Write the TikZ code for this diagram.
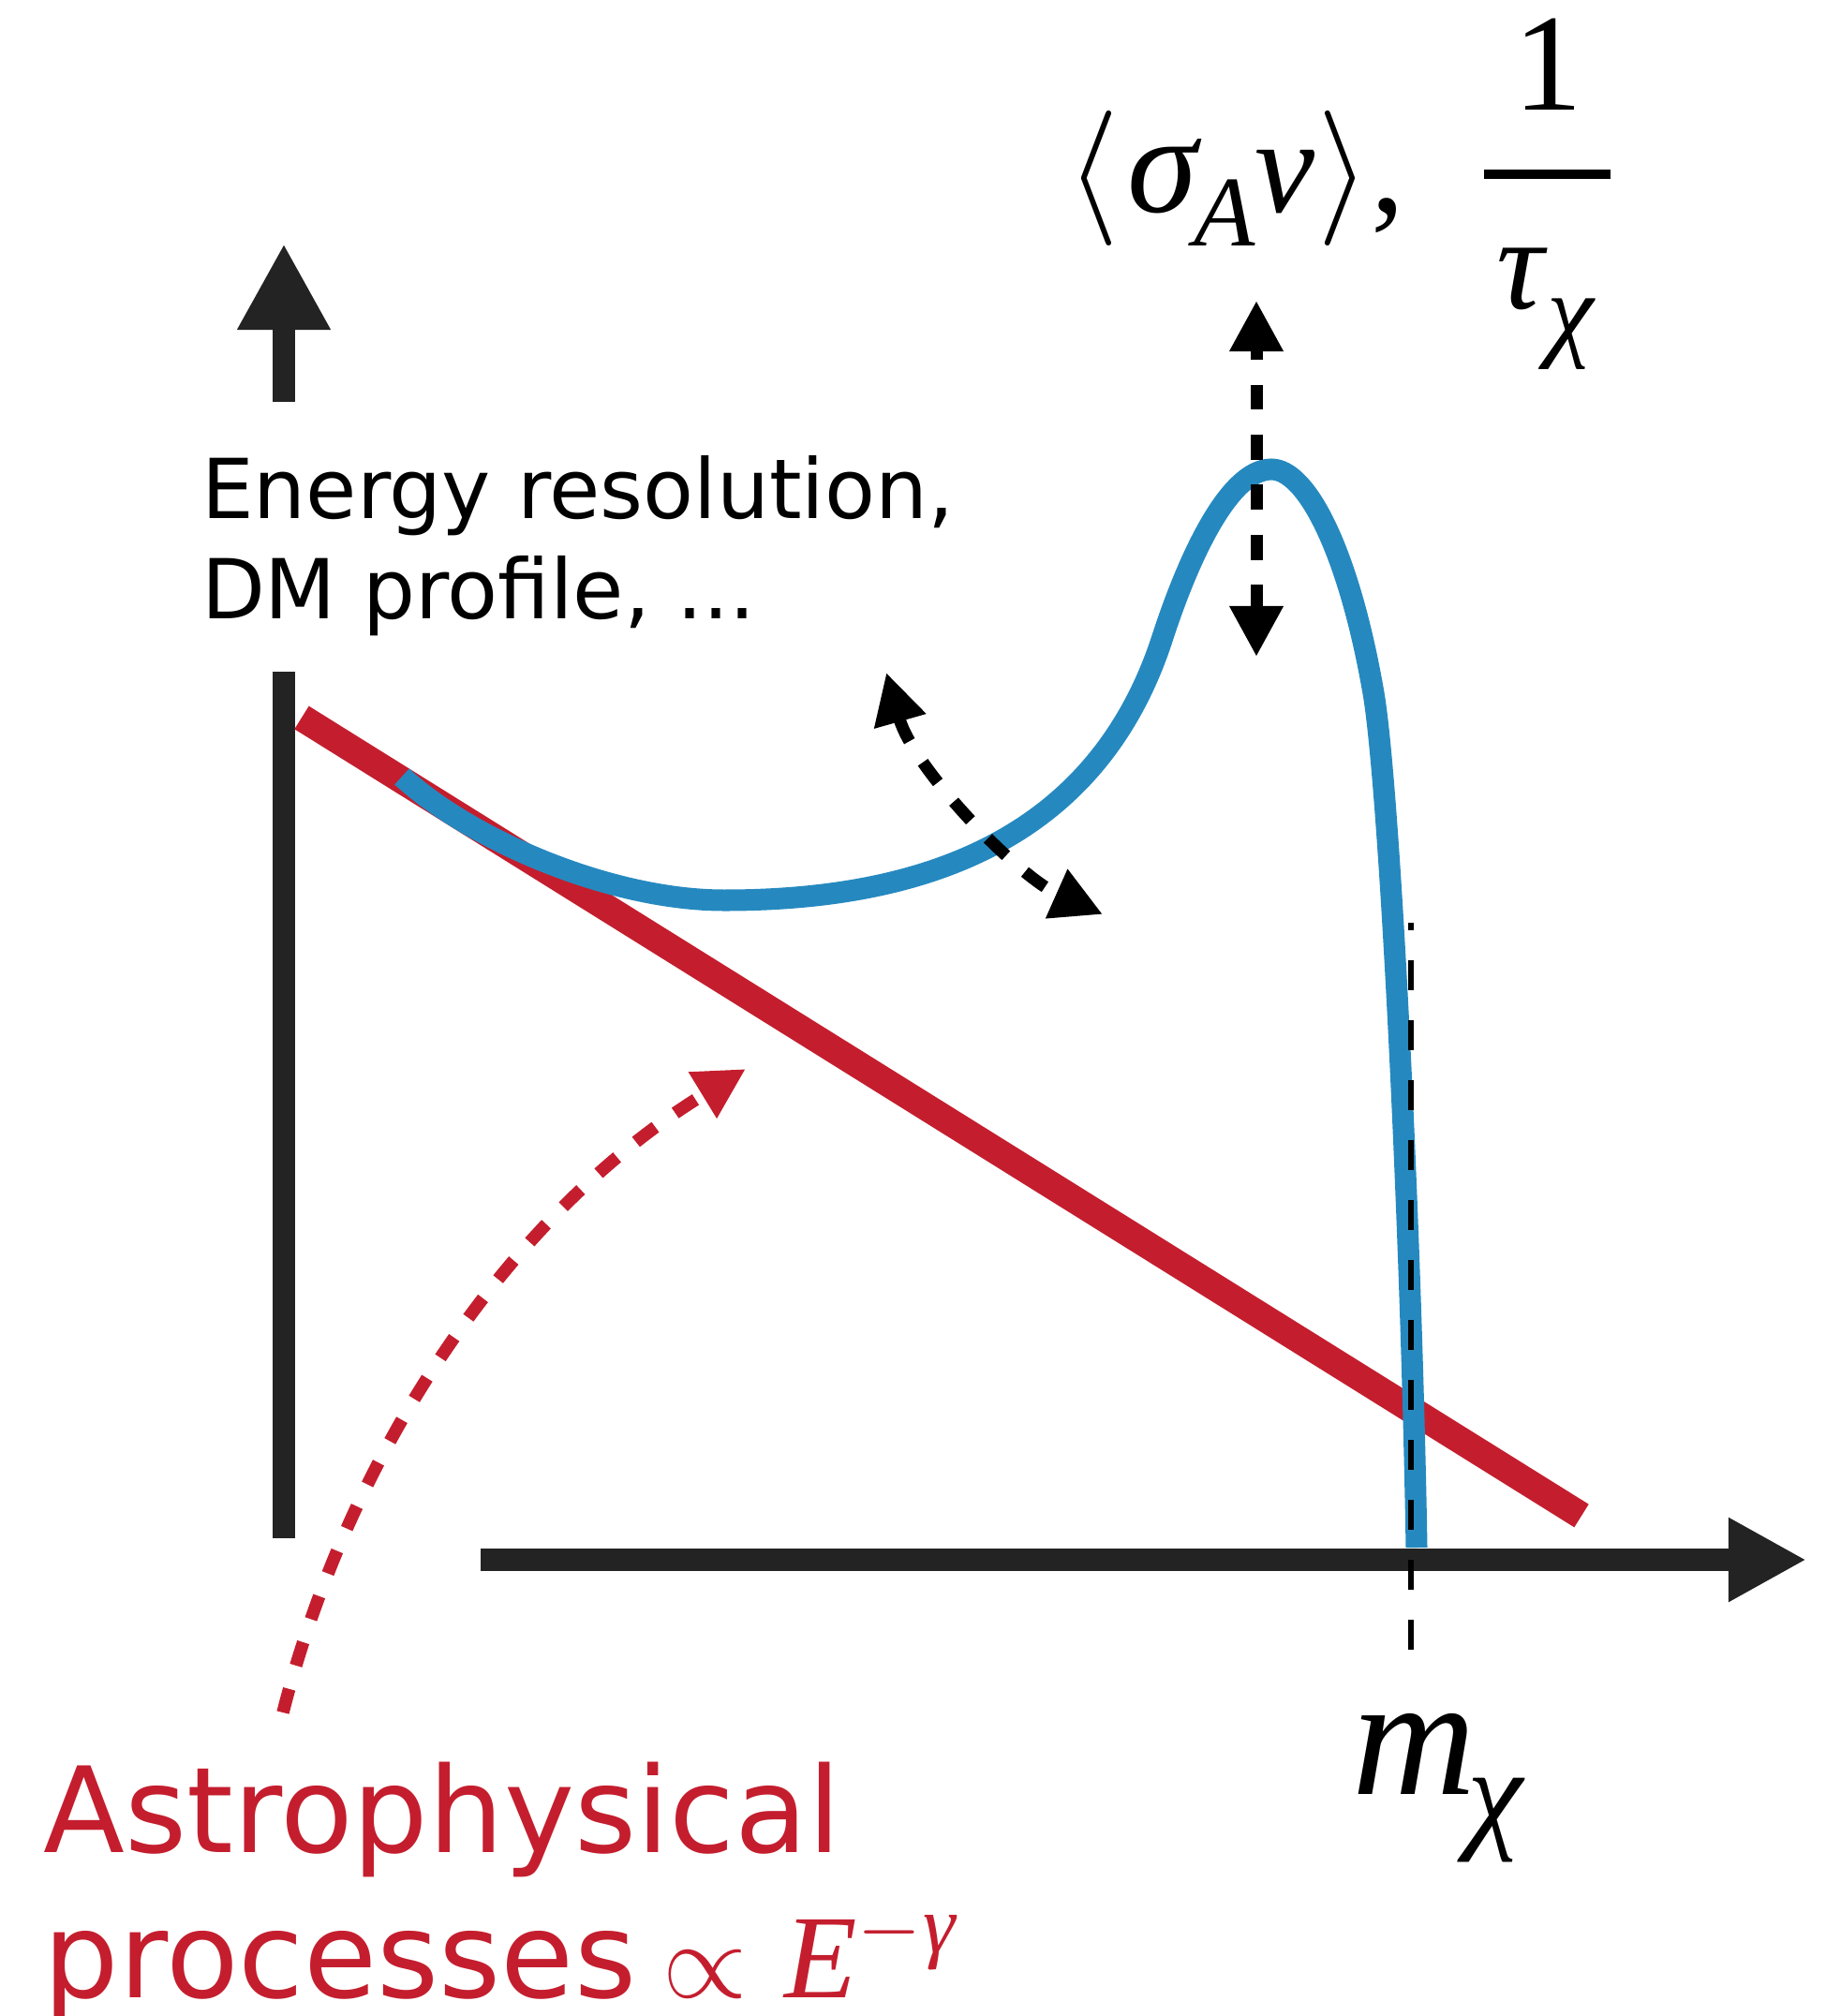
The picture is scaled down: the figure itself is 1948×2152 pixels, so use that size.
\RequirePackage{fix-cm}
\documentclass[tikz,border=0pt]{standalone}
\usepackage{fontspec}
\setmainfont{DejaVu Sans}
\newfontfamily\tms{Liberation Serif}
\usetikzlibrary{arrows.meta}
\definecolor{myred}{RGB}{196,30,46}
\definecolor{myblue}{RGB}{37,137,192}
\definecolor{axisgray}{RGB}{35,35,35}
\tikzset{
  axisline/.style={draw=axisgray, line width=0.235cm},
  redcurve/.style={draw=myred, line width=0.29cm},
  bluecurve/.style={draw=myblue, line width=0.23cm},
  blackdash/.style={draw=black, line width=0.13cm, dash pattern=on 0.267cm off 0.267cm},
  reddash/.style={draw=myred, line width=0.135cm, dash pattern=on 0.26cm off 0.26cm},
  guide/.style={draw=black, line width=0.055cm, dash pattern=on 0.32cm off 0.32cm},
  lbl/.style={inner sep=0pt, outer sep=0pt},
}
\begin{document}
\begin{tikzpicture}[x=0.01cm, y=-0.01cm]
\fill[white] (0,0) rectangle (1948,2152);
\useasboundingbox (0,0) rectangle (1948,2152);

% coordinates
\coordinate (upTop) at (303,260);
\coordinate (upBot) at (303,429);
\coordinate (vaxTop) at (303,717);
\coordinate (vaxBot) at (303,1642);
\coordinate (xaxL) at (513,1665);
\coordinate (xaxR) at (1928,1665);
\coordinate (redA) at (322,766);
\coordinate (redB) at (1688,1618);
\coordinate (guideBot) at (1506,1761);
\coordinate (guideTop) at (1506,985);
\coordinate (vdTop) at (1341,321);
\coordinate (vdBot) at (1341,701);
\coordinate (ddTop) at (946,718);
\coordinate (ddBot) at (1177,976);
\coordinate (rdStart) at (302,1828);
\coordinate (rdTip) at (796,1141);
\coordinate (blueStart) at (429,829);
\coordinate (blueMin) at (773,961);
\coordinate (blueA) at (1241,680);
\coordinate (bluePeak) at (1357,501);
\coordinate (blueB) at (1466,740);
\coordinate (blueEnd) at (1512,1652);

% axes
\draw[axisline, -{Triangle[length=0.92cm,width=0.93cm]}] (upBot) -- (upTop);
\draw[axisline] (vaxTop) -- (vaxBot);
\draw[axisline, -{Triangle[length=0.83cm,width=0.84cm]}] (xaxL) -- (xaxR);

% astrophysical power law
\draw[redcurve] (redA) -- (redB);

% DM spectrum
\draw[bluecurve] (blueStart) .. controls (500,895) and (650,961) .. (blueMin)
  .. controls (980,961) and (1170,900) .. (blueA)
  .. controls (1266,603) and (1310,501) .. (bluePeak)
  .. controls (1395,501) and (1440,590) .. (blueB)
  .. controls (1483,840) and (1506,1300) .. (blueEnd);

% mass guide
\draw[guide] (guideBot) -- (guideTop);

% arrows
\draw[blackdash, dash phase=0.147cm, {Triangle[length=0.54cm,width=0.54cm]}-{Triangle[length=0.54cm,width=0.54cm]}] (vdTop) -- (vdBot);
\draw[blackdash, {Triangle[length=0.54cm,width=0.54cm]}-{Triangle[length=0.54cm,width=0.54cm]}] (ddTop) .. controls (975,820) and (1085,935) .. (ddBot);
\draw[reddash, -{Triangle[length=0.54cm,width=0.54cm]}] (rdStart) .. controls (370,1560) and (537,1299) .. (rdTip);

% labels
\node[lbl, anchor=base west] (res1) at (215,553) {\fontsize{25.1pt}{30.4pt}\selectfont Energy resolution,};
\node[lbl, anchor=base west] (res2) at (215,660) {\fontsize{25.1pt}{30.4pt}\selectfont DM profile, ...};

\node[lbl, anchor=base west, text=myred] (astro1) at (47,1977) {\fontsize{36.1pt}{44pt}\selectfont Astrophysical};
\node[lbl, anchor=base west, text=myred] (astro2) at (47,2132) {\fontsize{36.1pt}{44pt}\selectfont processes\kern0.285cm{\fontsize{33pt}{33pt}\selectfont$\propto$}\kern0.40cm{\tms\itshape E}\raisebox{0.48cm}{\fontsize{24.8pt}{24.8pt}\selectfont$-$\kern0.02cm{\tms\itshape γ}}};

\node[lbl, anchor=base west] (rate) at (1138,227) {\fontsize{41pt}{41pt}\selectfont $\langle$\kern0.09cm{\fontsize{43pt}{43pt}\selectfont\tms\itshape σ}\kern-0.03cm\raisebox{-0.35cm}{\fontsize{30.4pt}{30.4pt}\selectfont\tms\itshape A}{\tms\itshape v}\kern0.03cm$\rangle${\tms ,}};

\node[lbl, anchor=base] (one) at (1652,118) {\fontsize{42pt}{42pt}\selectfont\tms 1};
\draw[draw=black, line width=0.10cm] (1584,186) -- (1719,186);
\node[lbl, anchor=base west] (tau) at (1597,330) {\fontsize{40pt}{40pt}\selectfont\tms\itshape τ\kern0.04cm\raisebox{-0.40cm}{\fontsize{32pt}{32pt}\selectfont χ}};

\node[lbl, anchor=base west] (mass) at (1443,1915) {\fontsize{52pt}{52pt}\selectfont\tms\itshape m\kern-0.09cm\raisebox{-0.44cm}{\fontsize{38pt}{38pt}\selectfont χ}};
\end{tikzpicture}
\end{document}
